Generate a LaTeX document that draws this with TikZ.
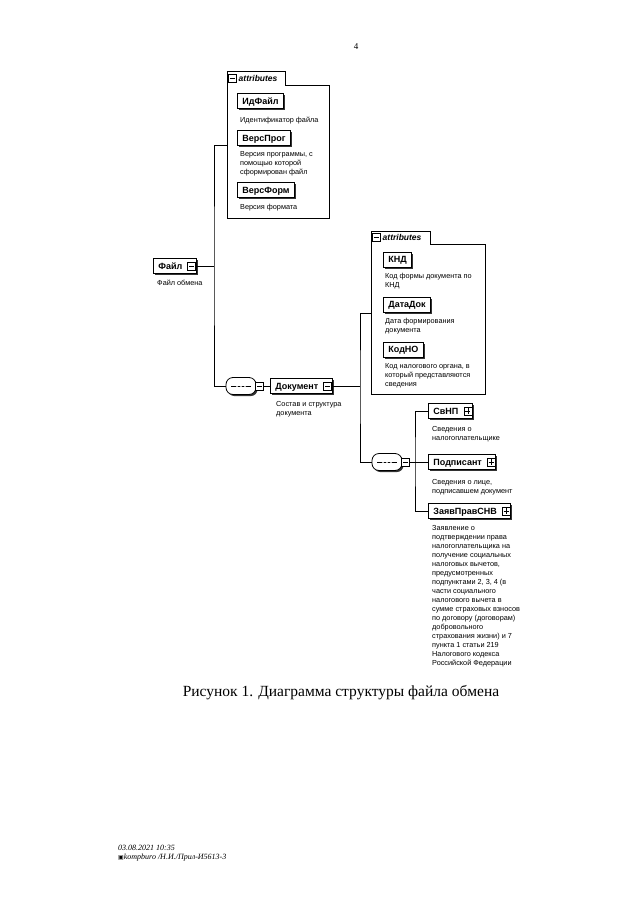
\documentclass[tikz,border=0pt]{standalone}
\usepackage{fontspec}
\setmainfont{Liberation Serif}
\newfontfamily\dsans{Liberation Sans}
\newfontfamily\dvs{DejaVu Sans}
\usetikzlibrary{shadows}
\newcommand{\xgap}{\hspace{9pt}\null}
\begin{document}
\begin{tikzpicture}[x=1pt,y=-1pt,
  shad/.style={drop shadow={shadow xshift=1.6pt, shadow yshift=-1.6pt, fill=black!80, opacity=1}},
  elem/.style={draw, fill=white, line width=0.8pt, shad, anchor=west,
    font=\dsans\bfseries\fontsize{9}{10}\selectfont, minimum height=15pt,
    inner xsep=5pt, inner ysep=0pt, text height=6.6pt, text depth=0pt},
  desc/.style={anchor=north west, align=left, inner sep=0pt,
    font=\dsans\fontsize{7.3}{9}\selectfont},
  xm/.style={draw, fill=white, line width=0.6pt, minimum size=8pt, inner sep=0pt,
    path picture={\draw[line width=0.6pt] ([xshift=1.4pt]path picture bounding box.west) -- ([xshift=-1.4pt]path picture bounding box.east);}},
  xp/.style={draw, fill=white, line width=0.6pt, minimum size=8pt, inner sep=0pt,
    path picture={\draw[line width=0.6pt] ([xshift=1.4pt]path picture bounding box.west) -- ([xshift=-1.4pt]path picture bounding box.east) ([yshift=-1.4pt]path picture bounding box.north) -- ([yshift=1.4pt]path picture bounding box.south);}},
  seqbox/.style={draw, fill=white, line width=0.8pt, shad, minimum width=30pt,
    minimum height=17pt, rounded corners=7pt, inner sep=0pt,
    path picture={\draw[line width=0.6pt] ([xshift=-10pt]path picture bounding box.center) -- ([xshift=10pt]path picture bounding box.center);
      \fill ([xshift=-4pt]path picture bounding box.center) circle (1.1pt)
            (path picture bounding box.center) circle (1.1pt)
            ([xshift=4pt]path picture bounding box.center) circle (1.1pt);}},
  conn/.style={line width=0.8pt},
  grp/.style={draw, line width=0.8pt},
  tabtext/.style={font=\dsans\bfseries\itshape\fontsize{8.5}{10}\selectfont, anchor=west, inner sep=0pt}
]
\path[use as bounding box, fill=white] (0,0) rectangle (640,905);

% page number
\node[font=\fontsize{9}{10}\selectfont] (pg) at (356,47) {4};

% group 1
\draw[grp] (227,71) -- (285,71) -- (285,85) -- (329,85) -- (329,218) -- (227,218) -- cycle;
\node[xm] (t1x) at (232.5,78) {};
\node[tabtext] (t1) at (238.5,78) {attributes};
\node[elem] (idf) at (237,101) {ИдФайл};
\node[desc] (idfd) at (240,116.5) {Идентификатор файла};
\node[elem] (vprog) at (237,138) {ВерсПрог};
\node[desc] (vprogd) at (240,151.5) {Версия программы, с\\помощью которой\\сформирован файл};
\node[elem] (vform) at (237,190) {ВерсФорм};
\node[desc] (vformd) at (240,204.5) {Версия формата};
\coordinate (g1in) at (227,145);

% root element
\node[elem] (fajl) at (153,266) {Файл\xgap};
\node[xm] (fajlx) at ([xshift=-5pt]fajl.east) {};
\node[desc] (fajld) at (157,279.5) {Файл обмена};
\coordinate (bus1) at (214,266);

% sequence 1
\node[seqbox] (s1) at (241,386) {};
\node[xm] (s1x) at ([xshift=3pt]s1.east) {};

% Документ
\node[elem] (dok) at (270,386) {Документ\xgap};
\node[xm] (dokx) at ([xshift=-5pt]dok.east) {};
\node[desc] (dokd) at (276,401.5) {Состав и структура\\документа};
\coordinate (bus2) at (360,386);

% group 2
\draw[grp] (371,231) -- (430,231) -- (430,244) -- (485,244) -- (485,394) -- (371,394) -- cycle;
\node[xm] (t2x) at (376.5,237.5) {};
\node[tabtext] (t2) at (382.5,237.5) {attributes};
\node[elem] (knd) at (383,259.5) {КНД};
\node[desc] (kndd) at (385,273.5) {Код формы документа по\\КНД};
\node[elem] (datadok) at (383,304.5) {ДатаДок};
\node[desc] (datadokd) at (385,318.5) {Дата формирования\\документа};
\node[elem] (kodno) at (383,349.5) {КодНО};
\node[desc] (kodnod) at (385,363.5) {Код налогового органа, в\\который представляются\\сведения};
\coordinate (g2in) at (371,313);

% sequence 2
\node[seqbox] (s2) at (387,462) {};
\node[xm] (s2x) at ([xshift=3pt]s2.east) {};
\coordinate (bus3) at (415,462);

% children
\node[elem] (senp) at (428,411) {СвНП\xgap};
\node[xp] (senpx) at ([xshift=-5pt]senp.east) {};
\node[desc] (senpd) at (432,426.5) {Сведения о\\налогоплательщике};
\node[elem] (podp) at (428,462) {Подписант\xgap};
\node[xp] (podpx) at ([xshift=-5pt]podp.east) {};
\node[desc] (podpd) at (432,479.5) {Сведения о лице,\\подписавшем документ};
\node[elem] (zayav) at (428,511) {ЗаявПравСНВ\xgap};
\node[xp] (zayavx) at ([xshift=-5pt]zayav.east) {};
\node[desc] (zayavd) at (432,525.5) {Заявление о\\подтверждении права\\налогоплательщика на\\получение социальных\\налоговых вычетов,\\предусмотренных\\подпунктами 2, 3, 4 (в\\части социального\\налогового вычета в\\сумме страховых взносов\\по договору (договорам)\\добровольного\\страхования жизни) и 7\\пункта 1 статьи 219\\Налогового кодекса\\Российской Федерации};

% connectors
\draw[conn] (fajlx.east) -- (bus1);
\draw[conn] (g1in) -| (bus1) |- (s1.west);
\draw[conn] (s1x.east) -- (dok.west);
\draw[conn] (dokx.east) -- (bus2);
\draw[conn] (g2in) -| (bus2) |- (s2.west);
\draw[conn] (s2x.east) -- (bus3);
\draw[conn] (senp.west) -| (bus3) |- (zayav.west);
\draw[conn] (bus3) -- (podp.west);

% caption
\node[font=\fontsize{15.5}{18}\selectfont] (cap) at (341,693) {Рисунок 1. Диаграмма структуры файла обмена};

% footer
\node[anchor=west, inner sep=0pt, font=\itshape\fontsize{8}{10}\selectfont] (f1) at (118,848) {03.08.2021 10:35};
\node[anchor=west, inner sep=0pt, font=\itshape\fontsize{8}{10}\selectfont] (f2) at (118,858) {{\dvs\upshape\fontsize{6}{6}\selectfont ▣}kompburo /Н.И./Прил-И5613-3};
\end{tikzpicture}
\end{document}
